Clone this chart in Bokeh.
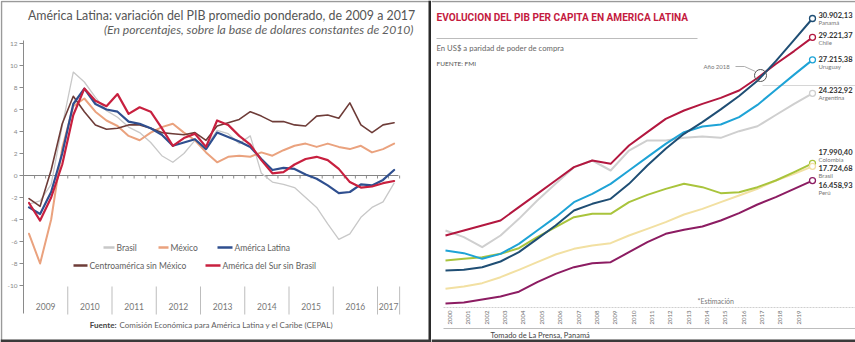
from bokeh.plotting import figure
from bokeh.layouts import row
from bokeh.models import Range1d
from bokeh.embed import file_html
from bokeh.resources import INLINE
from bokeh.core.properties import value

# ------------------------------------------------------------------
# LEFT CHART DATA: quarterly GDP growth (%), 2009-T1 .. 2017-T2
# ------------------------------------------------------------------
quarters = [f"{y}-T{q}" for y in range(2009, 2018) for q in range(1, 5)][:34]

brasil = [-2.6, -2.3, -0.8, 4.5, 9.4, 8.5, 7.1, 5.9, 5.3, 4.4, 3.9, 3.0, 1.8, 1.2,
          2.0, 3.2, 2.6, 4.1, 3.8, 2.9, 3.6, 0.2, -0.6, -0.8, -1.1, -2.0, -2.9,
          -4.4, -5.8, -5.3, -3.8, -2.9, -2.4, -0.7]
mexico = [-5.3, -8.0, -4.0, 2.5, 6.3, 7.0, 5.8, 5.0, 4.5, 3.6, 3.2, 3.9, 4.4, 4.7,
          3.9, 3.2, 2.1, 1.2, 1.7, 1.8, 1.7, 2.1, 1.8, 2.3, 2.7, 2.9, 2.6, 2.9,
          2.6, 2.4, 2.7, 2.1, 2.4, 2.9]
america_latina = [-2.9, -3.5, -1.5, 2.0, 6.5, 7.9, 6.5, 6.0, 5.8, 4.9, 4.7, 4.3,
                  3.7, 2.7, 3.0, 3.3, 2.4, 3.9, 3.5, 3.1, 2.6, 1.5, 0.5, 0.7, 0.6,
                  0.1, -0.3, -0.9, -1.6, -1.5, -0.8, -0.9, -0.4, 0.5]
centroamerica = [-2.1, -2.8, 0.5, 4.7, 7.2, 5.8, 4.6, 4.2, 4.3, 4.6, 4.6, 4.3, 3.9,
                 3.8, 3.7, 3.9, 3.2, 4.5, 4.8, 5.1, 5.8, 5.4, 4.9, 4.9, 4.6, 4.5,
                 5.4, 5.5, 5.2, 6.6, 4.6, 3.9, 4.6, 4.8]
sur_sin_brasil = [-2.5, -4.1, -2.0, 1.0, 5.5, 7.9, 6.8, 6.3, 7.4, 5.6, 6.2, 5.8,
                  4.3, 2.7, 3.4, 3.8, 2.6, 5.0, 4.6, 3.6, 2.8, 1.4, 0.2, 0.3, 1.0,
                  1.5, 1.7, 1.4, 0.6, -0.6, -1.1, -1.0, -0.7, -0.5]

left_names = ["Brasil", "México", "América Latina", "Centroamérica sin México",
              "América del Sur sin Brasil"]
left_colors = ["#c8c8c8", "#eaa27e", "#2f4f8f", "#6e3c38", "#c8203f"]
left_widths = [1.3, 2.0, 2.2, 1.6, 2.2]
left_years = [str(y) for y in range(2009, 2018)]
left_yticks = [12, 10, 8, 6, 4, 2, 0, -2, -4, -6, -8, -10]

# ------------------------------------------------------------------
# RIGHT CHART DATA: GDP per capita, US$ PPP
# ------------------------------------------------------------------
years_right = list(range(2000, 2021))
panama = [8442, 8501, 8739, 9244, 10076, 11264, 12453, 13790, 14384, 14829, 16166,
          17800, 19286, 20622, 21663, 22800, 24000, 25350, 27100, 29000, 30902.13]
chile = [11561, 12007, 12453, 12898, 14087, 15275, 16463, 17652, 18246, 17949, 19583,
         20771, 21960, 22702, 23297, 23832, 24485, 25600, 26850, 28000, 29221.37]
uruguay = [10224, 9987, 9482, 9927, 10818, 12007, 13195, 14532, 15275, 16166, 17355,
           18543, 19732, 20771, 21276, 21455, 22109, 23200, 24550, 25900, 27215.38]
argentina = [12007, 11413, 10521, 11561, 13047, 14681, 16166, 17652, 18246, 17355,
             19137, 20029, 20029, 20266, 20385, 20266, 20860, 21300, 22300, 23300,
             24232.92]
colombia = [9333, 9482, 9630, 9927, 10432, 11413, 12304, 13195, 13492, 13492, 14532,
            15186, 15720, 16166, 15869, 15334, 15424, 15869, 16463, 17206, 17990.40]
brasil_pc = [6807, 7015, 7314, 7847, 8501, 9184, 9868, 10373, 10670, 10878, 11561,
             12155, 12750, 13433, 13938, 14532, 15127, 15720, 16463, 17058, 17724.68]
peru = [5501, 5590, 5857, 6125, 6550, 7402, 8145, 8739, 9095, 9184, 10076, 10967,
        11710, 12066, 12363, 12898, 13552, 14324, 14978, 15720, 16458.93]

right_names = ["Panamá", "Chile", "Uruguay", "Argentina", "Colombia", "Brasil", "Perú"]
right_values_txt = ["30.902,13", "29.221,37", "27.215,38", "24.232,92", "17.990,40",
                    "17.724,68", "16.458,93"]
right_colors = ["#1f4e74", "#b3173f", "#1ea3d6", "#cfcfcf", "#a9c43c", "#f2e0a2",
                "#8c1c62"]
right_tick_years = list(range(2000, 2020))
right_years_lbl = [str(y) for y in right_tick_years]

# ------------------------------------------------------------------
W_L, W_R, H = 431, 424, 342
FONT = value("Lato")


def txt(p, xs, ys, texts, size, color, align="left", style="normal",
        font=FONT, angle=0.0, baseline="middle"):
    p.text(x=xs, y=ys, text=texts, text_font=font, text_font_size=f"{size}px",
           text_color=color, text_align=align, text_baseline=baseline,
           text_font_style=style, angle=angle)


def base_fig(w, xr, yr):
    p = figure(width=w, height=H, x_range=xr, y_range=yr, output_backend="svg",
               toolbar_location=None, min_border=0, x_axis_location=None,
               y_axis_location=None, outline_line_color=None,
               background_fill_color="white", border_fill_color="white")
    p.grid.grid_line_color = None
    return p


# ------------------------- LEFT FIGURE ----------------------------
LX0, LPX = 23.0, 44.25     # pixel of 2009.0 and px per year
LY0, LPY = 175.0, 11.0     # pixel of 0 % and px per point


def lx(px):
    return 2009 + (px - LX0) / LPX


def ly(py):
    return (LY0 - py) / LPY


pl = base_fig(W_L, Range1d(lx(0), lx(W_L)), Range1d(ly(H), ly(0)))

tq = [int(q[:4]) + (int(q[-1]) - 0.5) / 4 for q in quarters]

# title
txt(pl, [lx(415)], [ly(15)],
    ["América Latina: variación del PIB promedio ponderado, de 2009 a 2017"],
    12.4, "#555555", align="right")
txt(pl, [lx(413)], [ly(29)],
    ["(En porcentajes, sobre la base de dolares constantes de 2010)"],
    12.2, "#5e5e5e", align="right", style="italic")

# y axis
pl.segment(x0=[lx(LX0)], y0=[ly(40)], x1=[lx(LX0)], y1=[ly(313)],
           line_color="#8a8a8a", line_width=1)
pl.segment(x0=[lx(LX0 - 4)] * len(left_yticks), y0=left_yticks,
           x1=[lx(LX0)] * len(left_yticks), y1=left_yticks,
           line_color="#8a8a8a", line_width=1)
txt(pl, [lx(LX0 - 6)] * len(left_yticks), left_yticks,
    [str(v) for v in left_yticks], 6.5, "#888888", align="right")

# zero line with quarter ticks
qt = [2009 + k / 4 for k in range(35)]
pl.segment(x0=[lx(LX0)], y0=[0], x1=[lx(398)], y1=[0], line_color="#858585",
           line_width=1.2)
pl.segment(x0=qt, y0=[0] * len(qt), x1=qt, y1=[ly(LY0 + 3)] * len(qt),
           line_color="#8c8c8c", line_width=1)

# year band
yb = [2009 + k for k in range(1, 9)] + [2017.5]
pl.segment(x0=yb, y0=[ly(286)] * len(yb), x1=yb, y1=[ly(314)] * len(yb),
           line_color="#bdbdbd", line_width=1)
txt(pl, [int(y) + 0.5 if y != "2017" else 2017.25 for y in left_years],
    [ly(306)] * len(left_years), left_years, 8.5, "#777777", align="center")

# series
for data, col, lw in zip([brasil, mexico, centroamerica, america_latina, sur_sin_brasil],
                         [left_colors[0], left_colors[1], left_colors[3],
                          left_colors[2], left_colors[4]],
                         [left_widths[0], left_widths[1], left_widths[3],
                          left_widths[2], left_widths[4]]):
    pl.line(tq, data, line_color=col, line_width=lw, line_join="round",
            line_cap="round")

# legend (manual)
leg_sw = [(103, 114, 247), (158, 168, 247), (217, 232, 247), (73, 87, 265),
          (205, 220, 265)]
for (a, b, yy), col, name in zip(leg_sw, left_colors, left_names):
    pl.segment(x0=[lx(a)], y0=[ly(yy)], x1=[lx(b)], y1=[ly(yy)], line_color=col,
               line_width=2.5)
    txt(pl, [lx(b + 2)], [ly(yy)], [name], 8.5, "#606060")

# source
txt(pl, [lx(116)], [ly(324)], ["Fuente:"], 8, "#444444", align="right", style="bold")
txt(pl, [lx(119)], [ly(324)],
    ["Comisión Económica para América Latina y el Caribe (CEPAL)"], 8, "#606060")

# panel frame
pl.line([lx(1), lx(1), lx(429.5)], [ly(340), ly(1), ly(1)], line_color="#9a9a9a",
        line_width=1.5)
pl.line([lx(429.5), lx(429.5)], [ly(0), ly(342)], line_color="#2b2b2b", line_width=3)
pl.line([lx(0), lx(431)], [ly(340.5), ly(340.5)], line_color="#3a3a3a", line_width=3)

# ------------------------- RIGHT FIGURE ---------------------------
RX0, RPX = 445.0, 18.35          # page pixel of year 2000, px per year
RV0, RPY0, RPV = 30902.13, 18.0, 0.01122


def rx(px):
    return 2000 + (px - RX0) / RPX


def ry(py):
    return RV0 - (py - RPY0) / RPV


pr = base_fig(W_R, Range1d(rx(W_L), rx(855)), Range1d(ry(H), ry(0)))

txt(pr, [rx(436)], [ry(17)], ["EVOLUCION DEL PIB PER CAPITA EN AMERICA LATINA"],
    10.1, "#c41b3f", style="bold", font=value("Roboto"))
pr.segment(x0=[rx(436)], y0=[ry(38)], x1=[rx(697)], y1=[ry(38)],
           line_color="#bcbcbc", line_width=1)
txt(pr, [rx(436)], [ry(47)], ["En US$ a paridad de poder de compra"], 7.7,
    "#666666")
txt(pr, [rx(436)], [ry(63)], ["FUENTE: FMI"], 6.5, "#555555")

# faint separator near labels
pr.segment(x0=[rx(762)], y0=[ry(85)], x1=[rx(855)], y1=[ry(85)],
           line_color="#d6d6d6", line_width=1)

series_r = [argentina, brasil_pc, peru, colombia, uruguay, chile, panama]
cols_r = [right_colors[3], right_colors[5], right_colors[6], right_colors[4],
          right_colors[2], right_colors[1], right_colors[0]]
for data, col in zip(series_r, cols_r):
    pr.line(years_right, data, line_color=col, line_width=2.0, line_join="round")

ends = [panama[-1], chile[-1], uruguay[-1], argentina[-1], colombia[-1],
        brasil_pc[-1], peru[-1]]
pr.scatter([years_right[-1]] * 7, ends, size=6, fill_color="white",
           line_color=right_colors, line_width=1.3)

lbl_py = [14, 34, 58, 89, 151, 167, 184]
txt(pr, [rx(818)] * 7, [ry(v) for v in lbl_py], right_values_txt, 7.5, "#333333",
    style="bold")
txt(pr, [rx(818)] * 7, [ry(v + 8) for v in lbl_py], right_names, 6, "#777777")

# Año 2018 marker
pr.scatter([rx(760)], [ry(75)], size=12, fill_color=None, line_color="#555555",
           line_width=1)
pr.line([rx(735), rx(744), rx(755)], [ry(66), ry(66), ry(71)], line_color="#999999",
        line_width=0.8)
txt(pr, [rx(703)], [ry(66)], ["Año 2018"], 6, "#777777")

# x axis
txt(pr, [rx(697)], [ry(300)], ["*Estimación"], 7, "#777777")
pr.segment(x0=[rx(443)], y0=[ry(307)], x1=[rx(855)], y1=[ry(307)],
           line_color="#cfcfcf", line_width=1, line_dash="2 1")
txt(pr, [y + 0.25 for y in right_tick_years], [ry(317)] * len(right_tick_years),
    right_years_lbl, 6, "#6e6e6e", align="center", angle=1.5708)
pr.segment(x0=[rx(443)], y0=[ry(328)], x1=[rx(855)], y1=[ry(328)],
           line_color="#bdbdbd", line_width=1)
txt(pr, [rx(490)], [ry(335)], ["Tomado de La Prensa, Panamá"], 7.5, "#444444")

pr.line([rx(W_L), rx(855)], [ry(340.5), ry(340.5)], line_color="#3a3a3a",
        line_width=3)
pr.line([rx(W_L), rx(855)], [ry(1), ry(1)], line_color="#9a9a9a", line_width=1.5)

layout = row(pl, pr, spacing=0)
open("out.html", "w").write(file_html(layout, INLINE))
